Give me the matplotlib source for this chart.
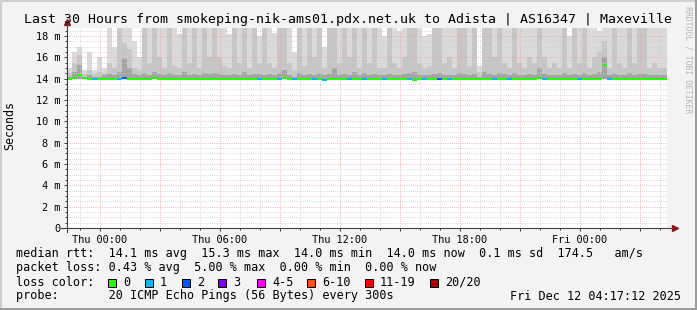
import numpy as np
import matplotlib
matplotlib.use('Agg')
from matplotlib import pyplot as plt
from matplotlib.patches import Rectangle
from matplotlib.lines import Line2D

plt.rcParams['font.family'] = ['DejaVu Sans Mono']

# --- data (15 min columns, hours relative to Thu 00:00) ---
t_start = -1.65
step = 0.25

smoke_top = [15.0, 16.5, 17.0, 14.8, 16.5, 14.8, 16.0, 15.0, 19, 17.0,
             19, 19, 19, 17.5, 16.0, 19, 19, 19, 19, 19,
             19, 19, 18.2, 19, 19, 19, 19, 19, 19, 19,
             19, 19, 18.2, 19, 19, 19, 19, 19, 18.0, 19,
             19, 18.3, 19, 19, 19, 16.5, 19, 19, 19, 19,
             19, 17.0, 19, 19, 19, 19, 19, 19, 19, 19,
             19, 19, 19, 18.0, 19, 19, 18.5, 19, 19, 19,
             19, 18.0, 18.2, 19, 19, 19, 19, 19, 19, 19,
             19, 19, 15.2, 19, 19, 19, 19, 19, 19, 19,
             19, 19, 19, 19, 19, 19, 19, 19, 19, 19,
             18.0, 19, 19, 19, 19, 19, 18.5, 19, 19, 19,
             19, 19, 19, 19, 19, 19, 19, 19, 19, 19]

smoke_upper = [14.5, 15.5, 16.2, 14.4, 14.8, 14.4, 14.6, 14.5, 15.5, 15.0,
               19, 17.3, 16.8, 15.0, 14.8, 19, 15.5, 19, 16.0, 15.0,
               19, 15.2, 15.0, 19, 15.5, 19, 15.0, 19, 16.0, 19,
               16.0, 15.2, 15.0, 19, 15.5, 19, 15.0, 19, 15.5, 19,
               15.5, 15.0, 19, 19, 15.5, 14.8, 19, 15.2, 19, 16.0,
               19, 15.0, 19, 19, 15.5, 19, 16.0, 19, 15.0, 19,
               15.5, 19, 15.0, 15.0, 19, 15.5, 15.0, 16.0, 19, 19,
               15.5, 15.0, 15.2, 19, 19, 15.5, 16.0, 15.0, 19, 19,
               15.2, 19, 14.6, 19, 19, 16.0, 19, 15.5, 15.0, 19,
               15.5, 15.0, 16.0, 15.5, 19, 16.0, 15.0, 15.5, 15.0, 19,
               15.0, 19, 15.5, 19, 15.0, 16.0, 16.5, 17.5, 15.0, 19,
               15.5, 15.0, 19, 15.5, 19, 19, 15.0, 15.5, 15.0, 15.0]

smoke_core = [14.2, 14.6, 15.3, 14.2, 14.3, 14.2, 14.2, 14.3, 14.4, 14.3,
              14.6, 15.8, 15.0, 14.4, 14.3, 14.5, 14.3, 14.6, 14.4, 14.3,
              14.5, 14.3, 14.3, 14.6, 14.3, 14.4, 14.3, 14.5, 14.4, 14.5,
              14.4, 14.3, 14.3, 14.4, 14.3, 14.6, 14.3, 14.4, 14.4, 14.3,
              14.4, 14.3, 14.5, 14.8, 14.3, 14.2, 14.5, 14.3, 14.4, 14.3,
              14.5, 14.3, 14.4, 15.0, 14.3, 14.4, 14.3, 14.6, 14.3, 14.5,
              14.3, 14.4, 14.3, 14.3, 14.4, 14.3, 14.3, 14.4, 14.5, 14.6,
              14.3, 14.3, 14.3, 14.4, 14.5, 14.3, 14.3, 14.3, 14.5, 14.4,
              14.3, 14.4, 14.2, 14.6, 14.4, 14.3, 14.5, 14.4, 14.3, 14.5,
              14.3, 14.3, 14.4, 14.3, 15.0, 14.4, 14.3, 14.3, 14.3, 14.5,
              14.3, 14.4, 14.3, 14.5, 14.3, 14.4, 14.6, 16.0, 14.3, 14.4,
              14.3, 14.3, 14.5, 14.3, 14.4, 14.4, 14.3, 14.3, 14.3, 14.3]

median = [14.0, 14.1, 14.3, 14.1, 14.0, 14.0, 14.0, 14.0, 14.0, 14.0,
          14.0, 14.1, 14.0, 14.0, 14.0, 14.0, 14.0, 14.1, 14.0, 14.0,
          14.0, 14.0, 14.0, 14.0, 14.0, 14.0, 14.0, 14.0, 14.0, 14.0,
          14.0, 14.0, 14.0, 14.0, 14.0, 14.0, 14.0, 14.0, 14.0, 14.0,
          14.0, 14.0, 14.0, 14.1, 14.0, 14.0, 14.0, 14.0, 14.0, 14.0,
          14.0, 13.9, 14.0, 14.0, 14.0, 14.0, 14.0, 14.0, 14.0, 14.0,
          14.0, 14.0, 14.0, 14.0, 14.0, 14.0, 14.0, 14.0, 14.0, 13.9,
          14.0, 14.0, 14.0, 14.0, 14.0, 14.0, 14.0, 14.0, 14.0, 14.0,
          14.0, 14.0, 14.0, 14.0, 14.0, 14.0, 14.0, 14.0, 14.0, 14.0,
          14.0, 14.0, 14.0, 14.0, 14.1, 14.0, 14.0, 14.0, 14.0, 14.0,
          14.0, 14.0, 14.0, 14.0, 14.0, 14.0, 14.0, 15.3, 14.0, 14.0,
          14.0, 14.0, 14.0, 14.0, 14.0, 14.0, 14.0, 14.0, 14.0, 14.0]

loss = [0] * 120
for k in [5, 10, 38, 42, 45, 49, 51, 56, 59, 63, 68, 71, 76, 85, 88, 95, 102, 108]:
    loss[k] = 1
for k in [11, 74]:
    loss[k] = 2

rtt_floor = 14.0
xtick_pos = [0, 6, 12, 18, 24]
xtick_labels = ['Thu 00:00', 'Thu 06:00', 'Thu 12:00', 'Thu 18:00', 'Fri 00:00']
ytick_pos = [0, 2, 4, 6, 8, 10, 12, 14, 16, 18]
ytick_labels = ['0', '2 m', '4 m', '6 m', '8 m', '10 m', '12 m', '14 m', '16 m', '18 m']

loss_labels = ['0', '1', '2', '3', '4-5', '6-10', '11-19', '20/20']
loss_colors = ['#26ff00', '#00b8ff', '#0059ff', '#7e00ff', '#ff00ff', '#ff5500', '#ff0000', '#a10000']

title = 'Last 30 Hours from smokeping-nik-ams01.pdx.net.uk to Adista | AS16347 | Maxeville'
legend_lines = ['median rtt:  14.1 ms avg  15.3 ms max  14.0 ms min  14.0 ms now  0.1 ms sd  174.5   am/s',
                'packet loss: 0.43 % avg  5.00 % max  0.00 % min  0.00 % now']
probe_text = 'probe:       20 ICMP Echo Pings (56 Bytes) every 300s'
stamp = 'Fri Dec 12 04:17:12 2025'

# --- figure ---
W, H = 697, 310
fig = plt.figure(figsize=(W / 100, H / 100), dpi=100, facecolor='#f3f3f3')

def fx(x):
    return x / W

def fy(y):
    return 1 - y / H

ax = fig.add_axes([fx(67), fy(228), 600 / W, 200 / H])
ax.set_facecolor('white')

t = t_start + step * np.arange(len(smoke_top))
med = np.array(median)
ax.bar(t, np.array(smoke_top) - rtt_floor, bottom=rtt_floor, width=step, align='edge',
       color='#dadada', linewidth=0, zorder=1)
ax.bar(t, np.array(smoke_upper) - rtt_floor, bottom=rtt_floor, width=step, align='edge',
       color='#c6c6c6', linewidth=0, zorder=1.1)
ax.bar(t, np.array(smoke_core) - rtt_floor, bottom=rtt_floor, width=step, align='edge',
       color='#a4a4a4', linewidth=0, zorder=1.2)
ax.hlines(med, t, t + step, colors=[loss_colors[l] for l in loss], linewidth=1.5, zorder=4)

ax.set_xlim(t_start, t_start + 30)
ax.set_ylim(0, 18.75)

# grids
ax.set_xticks(np.arange(0, 28, 3))
ax.set_xticklabels([xtick_labels[xtick_pos.index(v)] if v in xtick_pos else '' for v in range(0, 28, 3)])
ax.set_xticks(np.arange(-1, 29, 1), minor=True)
ax.set_yticks(ytick_pos)
ax.set_yticklabels(ytick_labels)
ax.set_yticks(np.arange(0, 18.76, 0.5), minor=True)
ax.set_axisbelow(False)
ax.grid(which='major', color='#f3a0a0', linestyle=(0, (0.72, 1.44)), linewidth=0.72)
ax.grid(which='minor', color='#cdcdcd', linestyle=(0, (0.72, 1.44)), linewidth=0.72)
ax.tick_params(which='major', length=2.2, width=0.72, color='#404040', labelsize=7.4, pad=2.5)
ax.tick_params(which='minor', length=1.4, width=0.72, color='#404040')
ax.tick_params(axis='x', pad=3)
for s in ax.spines.values():
    s.set_visible(False)

# axis lines with arrows
ax.plot([0, 0], [-0.02, 1.02], transform=ax.transAxes, color='#404040', lw=0.8, clip_on=False, zorder=5)
ax.plot([-6 / 600, 1 + 4 / 600], [0, 0], transform=ax.transAxes, color='#404040', lw=0.8, clip_on=False, zorder=5)
ax.plot([0], [1.03], transform=ax.transAxes, marker='^', color='#8b1a1a', markersize=4, clip_on=False, zorder=6)
ax.plot([1 + 8 / 600], [0], transform=ax.transAxes, marker='>', color='#8b1a1a', markersize=4, clip_on=False, zorder=6)

# texts
fig.text(fx(348), fy(19), title, ha='center', va='center', fontsize=9.5)
fig.text(fx(10), fy(126), 'Seconds', rotation=90, ha='center', va='center', fontsize=8.4)
fig.text(fx(688), fy(60), 'RRDTOOL / TOBI OETIKER', rotation=270, ha='center', va='center',
         fontsize=5.9, color='#b4b4b4')

fig.text(fx(16), fy(254), legend_lines[0], ha='left', va='center', fontsize=8.45)
fig.text(fx(16), fy(268), legend_lines[1], ha='left', va='center', fontsize=8.45)
fig.text(fx(16), fy(282), 'loss color:', ha='left', va='center', fontsize=8.45)
fig.text(fx(16), fy(296), probe_text, ha='left', va='center', fontsize=8.45)
fig.text(fx(681), fy(296), stamp, ha='right', va='center', fontsize=8.45)

box_x = [108, 145, 182, 218, 257, 307, 365, 430]
for bx, lab, col in zip(box_x, loss_labels, loss_colors):
    fig.add_artist(Rectangle((fx(bx), fy(287)), 8 / W, 8 / H, transform=fig.transFigure,
                             facecolor=col, edgecolor='black', linewidth=0.72))
    fig.text(fx(bx + 15), fy(282), lab, ha='left', va='center', fontsize=8.45)

# frame
fig.add_artist(Line2D([0, 1], [fy(1), fy(1)], color='#cfcfcf', lw=1.5, transform=fig.transFigure))
fig.add_artist(Line2D([fx(1), fx(1)], [0, 1], color='#cfcfcf', lw=1.5, transform=fig.transFigure))
fig.add_artist(Line2D([0, 1], [fy(308.5), fy(308.5)], color='#9c9c9c', lw=2.2, transform=fig.transFigure))
fig.add_artist(Line2D([fx(695.5), fx(695.5)], [0, 1], color='#9c9c9c', lw=2.2, transform=fig.transFigure))

fig.savefig('out.png', dpi=100, facecolor=fig.get_facecolor())
